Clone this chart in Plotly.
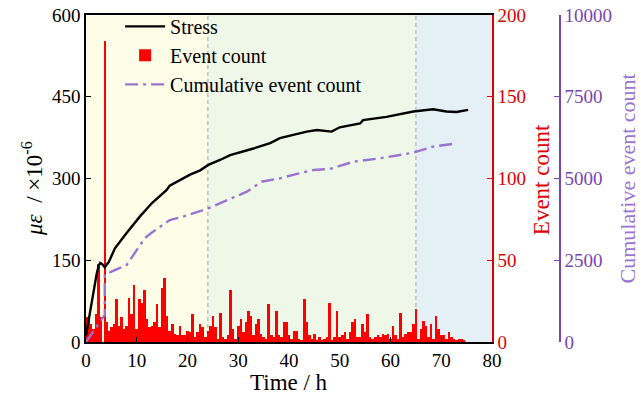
import plotly.graph_objects as go

# ---------------- data ----------------
stress_time = [0, 0.7, 1.5, 2.1, 2.5, 2.8, 3.2, 3.7, 4.5, 5.7, 8, 10.6, 13, 15.9, 16.5, 18.5,
               20.5, 22.5, 24.1, 26.4, 28.4, 33, 36.3, 38.2, 43.5, 45.5, 48.4, 50, 54, 54.6,
               59.2, 64.5, 68.4, 71, 73, 75.3]
stress_val = [12, 50, 95, 125, 140, 145, 143, 137, 147, 172, 200, 230, 255, 279, 287, 297,
              307, 315, 325, 334, 343, 355, 365, 374, 386, 389, 386, 394, 401, 407,
              413, 423, 427, 423, 422, 426]

cum_time = [0, 3.7, 3.7, 5, 8, 11.6, 13, 16.5, 19, 22, 24.1, 28, 31.7, 34.6, 38.2, 41, 44.8,
            48, 52.7, 57.9, 64.5, 68.4, 73]
cum_val = [0, 826, 2049, 2150, 2355, 3180, 3350, 3730, 3830, 3990, 4088, 4350, 4597, 4902,
           5004, 5120, 5260, 5290, 5514, 5617, 5790, 5973, 6076]

event_time = [0, 0.5, 1, 1.5, 2, 2.5, 3, 3.7, 4, 4.5, 5, 5.5, 6, 6.5, 7, 7.5, 8, 8.5, 9, 9.5,
              10, 10.5, 11, 11.5, 12, 12.5, 13, 13.5, 14, 14.5, 15, 15.5, 16, 16.5, 17, 17.5,
              18, 18.5, 19, 19.5, 20, 20.5, 21, 21.5, 22, 22.5, 23, 23.5, 24, 24.5, 25, 25.5,
              26, 26.5, 27, 27.5, 28, 28.5, 29, 29.5, 30, 30.5, 31, 31.5, 32, 32.5, 33, 33.5,
              34, 34.5, 35, 35.5, 36, 36.5, 37, 37.5, 38, 38.5, 39, 39.5, 40, 40.5, 41, 41.5,
              42, 42.5, 43, 43.5, 44, 44.5, 45, 45.5, 46, 46.5, 47, 47.5, 48, 48.5, 49, 49.5,
              50, 50.5, 51, 51.5, 52, 52.5, 53, 53.5, 54, 54.5, 55, 55.5, 56, 56.5, 57, 57.5,
              58, 58.5, 59, 59.5, 60, 60.5, 61, 61.5, 62, 62.5, 63, 63.5, 64, 64.5, 65, 65.5,
              66, 66.5, 67, 67.5, 68, 68.5, 69, 69.5, 70, 70.5, 71, 71.5, 72, 72.5, 73, 73.5,
              74, 74.5]
event_val = [15, 15, 11, 8, 17, 48, 15, 184, 12, 7, 9, 11, 26, 10, 15, 8, 10, 27, 17, 35,
             8, 26, 24, 32, 14, 9, 10, 12, 23, 9, 33, 39, 16, 7, 11, 5,
             4, 10, 4, 4, 7, 6, 17, 3, 6, 11, 9, 3, 7, 10, 16, 9,
             2, 18, 3, 2, 4, 32, 8, 2, 10, 14, 6, 12, 19, 16, 4, 11,
             14, 5, 3, 2, 23, 4, 3, 19, 4, 3, 12, 12, 4, 2, 7, 7,
             2, 1, 26, 12, 4, 2, 5, 1, 3, 1, 2, 3, 24, 1, 3, 19,
             3, 4, 6, 2, 6, 12, 14, 3, 3, 11, 6, 17, 3, 2, 3, 4,
             3, 5, 4, 5, 2, 10, 4, 2, 18, 3, 5, 6, 6, 11, 20, 2,
             8, 13, 10, 3, 11, 2, 16, 8, 4, 4, 2, 6, 3, 2, 1, 2,
             2, 1]

stage_bounds = [0, 24, 65, 80]
stage_colors = ["rgb(254,253,232)", "rgb(239,247,233)", "rgb(228,239,246)"]

x_ticks = [0, 10, 20, 30, 40, 50, 60, 70, 80]
stress_ticks = [0, 150, 300, 450, 600]
event_ticks = [0, 50, 100, 150, 200]
cum_ticks = [0, 2500, 5000, 7500, 10000]

# ---------------- figure ----------------
FONT = "Liberation Serif, Times New Roman, serif"
RED = "#e00000"
PURPLE_TICK = "#7a45b5"
PURPLE_LINE = "#9a74d2"

fig = go.Figure()

fig.add_trace(go.Bar(x=event_time, y=event_val, name="Event count",
                     marker=dict(color="#ff0000", line=dict(width=0)),
                     width=0.5, yaxis="y", showlegend=True, legendrank=2))
fig.add_trace(go.Scatter(x=stress_time, y=stress_val, name="Stress", mode="lines",
                         line=dict(color="black", width=2.4), yaxis="y2", legendrank=1))
fig.add_trace(go.Scatter(x=cum_time, y=cum_val, name="Cumulative event count", mode="lines",
                         line=dict(color=PURPLE_LINE, width=2.4, dash="13px,5px,3px,5px"),
                         yaxis="y3", legendrank=3))

shapes = []
for i in range(3):
    shapes.append(dict(type="rect", xref="x", yref="paper", x0=stage_bounds[i],
                       x1=stage_bounds[i + 1], y0=0, y1=1, fillcolor=stage_colors[i],
                       line=dict(width=0), layer="below"))
for xb in stage_bounds[1:3]:
    shapes.append(dict(type="line", xref="x", yref="paper", x0=xb, x1=xb, y0=0, y1=1,
                       line=dict(color="#c4c4c4", width=1.6, dash="4px,3px"), layer="below"))

tickfont = dict(family=FONT, size=19)

fig.update_layout(
    width=641, height=398,
    margin=dict(l=86, r=5, t=15, b=56, autoexpand=False),
    paper_bgcolor="white", plot_bgcolor="white",
    font=dict(family=FONT, size=19, color="black"),
    bargap=0,
    shapes=shapes,
    xaxis=dict(domain=[0, 0.7382], range=[0, 80], tickvals=x_ticks, ticks="inside",
               ticklen=5, tickcolor="black", showline=True, linecolor="black",
               linewidth=1.5, mirror=True, showgrid=False, zeroline=False,
               automargin=False, tickfont=tickfont),
    yaxis=dict(range=[0, 200], tickvals=event_ticks, ticktext=[str(v) for v in event_ticks],
               side="right", anchor="x", ticks="inside", ticklen=5, tickcolor=RED,
               showline=True, linecolor=RED, linewidth=1.5, showgrid=False, zeroline=False,
               automargin=False, tickfont=dict(family=FONT, size=19, color=RED)),
    yaxis2=dict(range=[0, 600], tickvals=stress_ticks, ticktext=[str(v) for v in stress_ticks],
                side="left", overlaying="y", anchor="x", ticks="inside", ticklen=5,
                tickcolor="black", showline=True, linecolor="black", linewidth=1.5,
                showgrid=False, zeroline=False, automargin=False, tickfont=tickfont),
    yaxis3=dict(range=[0, 10000], tickvals=cum_ticks, ticktext=[str(v) for v in cum_ticks],
                side="right", overlaying="y", anchor="free", position=0.8618, autoshift=False,
                ticks="inside", ticklen=5, tickcolor=PURPLE_TICK, showline=True,
                linecolor=PURPLE_TICK, linewidth=1.5, showgrid=False, zeroline=False,
                automargin=False, tickfont=dict(family=FONT, size=19, color=PURPLE_TICK)),
    legend=dict(x=0.062, y=1.025, xanchor="left", yanchor="top", bgcolor="rgba(0,0,0,0)",
                borderwidth=0, itemwidth=40, tracegroupgap=0,
                font=dict(family=FONT, size=20, color="black"), traceorder="normal"),
    annotations=[
        dict(text="Time / h", xref="paper", yref="paper", x=0.3691, y=-0.125,
             xanchor="center", yanchor="middle", showarrow=False,
             font=dict(family=FONT, size=23, color="black")),
        dict(text="<i>με</i>  / ×10<sup>-6</sup>", xref="paper", yref="paper",
             x=-0.0964, y=0.471, xanchor="center", yanchor="middle", textangle=-90,
             showarrow=False, font=dict(family=FONT, size=23, color="black")),
        dict(text="Event count", xref="paper", yref="paper", x=0.8285, y=0.497,
             xanchor="center", yanchor="middle", textangle=-90, showarrow=False,
             font=dict(family=FONT, size=23, color=RED)),
        dict(text="Cumulative event count", xref="paper", yref="paper", x=0.9845, y=0.5015,
             xanchor="center", yanchor="middle", textangle=-90, showarrow=False,
             font=dict(family=FONT, size=22, color=PURPLE_LINE)),
    ],
)

fig.write_html("out.html")
